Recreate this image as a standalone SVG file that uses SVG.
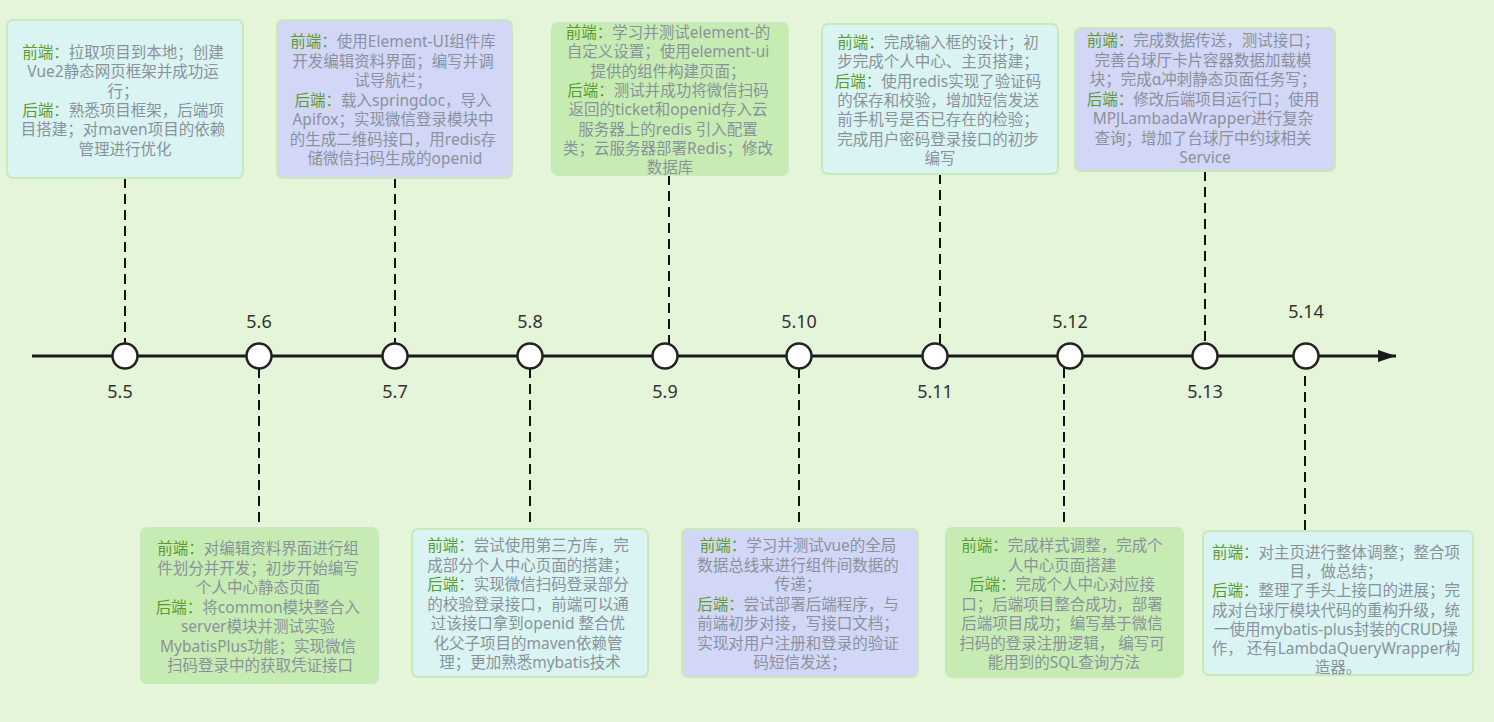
<svg xmlns="http://www.w3.org/2000/svg" width="1494" height="722" viewBox="0 0 1494 722">
<defs>
<style>
.bg{fill:#e4f5d9}
.box{stroke:#c8eab8;stroke-width:2}
.cy{fill:#d9f4f3}
.lv{fill:#d2d6f7}
.gr{fill:#c7ecb3}
.t{font-family:"Noto Sans","Noto Sans CJK SC",sans-serif;font-size:15.5px;fill:#8a929c;text-anchor:middle}
.k{fill:#5c9c2e}
.d{stroke:#111;stroke-width:2;stroke-dasharray:10 6;fill:none}
.axis{stroke:#1a1a1a;stroke-width:3;fill:none}
.dot{fill:#fff;stroke:#222;stroke-width:2.5}
.lb{font-family:"Noto Sans","Noto Sans CJK SC",sans-serif;font-size:18px;fill:#333;text-anchor:middle}
</style>
<marker id="arr" viewBox="0 0 18 12" refX="18" refY="6" markerWidth="18" markerHeight="12" markerUnits="userSpaceOnUse" orient="auto">
<path d="M0,0 L18,6 L0,12 Z" fill="#1a1a1a"/>
</marker>
</defs>
<rect class="bg" x="0" y="0" width="1494" height="722"/>

<g id="connectors">
<line class="axis" x1="32" y1="356" x2="1396" y2="356" marker-end="url(#arr)"/>
<line class="d" x1="125" y1="178" x2="125" y2="344"/>
<line class="d" x1="395" y1="178" x2="395" y2="344"/>
<line class="d" x1="669" y1="175" x2="669" y2="344"/>
<line class="d" x1="940" y1="174" x2="940" y2="345"/>
<line class="d" x1="1205" y1="171" x2="1205" y2="344"/>
<line class="d" x1="259" y1="368" x2="259" y2="528"/>
<line class="d" x1="530" y1="368" x2="530" y2="529"/>
<line class="d" x1="799" y1="368" x2="799" y2="529"/>
<line class="d" x1="1064" y1="368" x2="1064" y2="528"/>
<line class="d" x1="1305" y1="376" x2="1305" y2="531"/>
</g>

<g id="timeline">
<circle class="dot" cx="125" cy="356" r="12.5"/>
<circle class="dot" cx="259" cy="356" r="12.5"/>
<circle class="dot" cx="395" cy="356" r="12.5"/>
<circle class="dot" cx="530" cy="356" r="12.5"/>
<circle class="dot" cx="665" cy="356" r="12.5"/>
<circle class="dot" cx="799" cy="356" r="12.5"/>
<circle class="dot" cx="935" cy="356" r="12.5"/>
<circle class="dot" cx="1070" cy="356" r="12.5"/>
<circle class="dot" cx="1205" cy="356" r="12.5"/>
<circle class="dot" cx="1306" cy="356" r="12.5"/>
<text class="lb" x="120" y="398">5.5</text>
<text class="lb" x="259" y="328">5.6</text>
<text class="lb" x="395" y="398">5.7</text>
<text class="lb" x="530" y="328">5.8</text>
<text class="lb" x="665" y="398">5.9</text>
<text class="lb" x="799" y="328">5.10</text>
<text class="lb" x="935" y="398">5.11</text>
<text class="lb" x="1070" y="328">5.12</text>
<text class="lb" x="1205" y="398">5.13</text>
<text class="lb" x="1306" y="318">5.14</text>
</g>

<g id="n55">
<rect class="box cy" x="7" y="20" width="236" height="158" rx="6"/>
<text class="t">
<tspan x="125" y="58"><tspan class="k">前端：</tspan>拉取项目到本地；创建</tspan>
<tspan x="125" y="77.3">Vue2静态网页框架并成功运</tspan>
<tspan x="125" y="96.6">行；</tspan>
<tspan x="125" y="115.9"><tspan class="k">后端：</tspan>熟悉项目框架，后端项</tspan>
<tspan x="125" y="135.2">目搭建；对maven项目的依赖</tspan>
<tspan x="125" y="154.5">管理进行优化</tspan>
</text>
</g>

<g id="n57">
<rect class="box lv" x="277" y="20" width="235" height="158" rx="6"/>
<text class="t">
<tspan x="395" y="47"><tspan class="k">前端：</tspan>使用Element-UI组件库</tspan>
<tspan x="395" y="66.5">开发编辑资料界面；编写并调</tspan>
<tspan x="395" y="86">试导航栏；</tspan>
<tspan x="395" y="105.5"><tspan class="k">后端：</tspan>载入springdoc，导入</tspan>
<tspan x="395" y="125">Apifox；实现微信登录模块中</tspan>
<tspan x="395" y="144.5">的生成二维码接口，用redis存</tspan>
<tspan x="395" y="164">储微信扫码生成的openid</tspan>
</text>
</g>

<g id="n59">
<rect class="box gr" x="552" y="23" width="236" height="152" rx="6"/>
<text class="t">
<tspan x="670" y="38"><tspan class="k">前端：</tspan>学习并测试element-的</tspan>
<tspan x="670" y="57.3">自定义设置；使用element-ui</tspan>
<tspan x="670" y="76.6">提供的组件构建页面；</tspan>
<tspan x="670" y="95.9"><tspan class="k">后端：</tspan>测试并成功将微信扫码</tspan>
<tspan x="670" y="115.2">返回的ticket和openid存入云</tspan>
<tspan x="670" y="134.5">服务器上的redis 引入配置</tspan>
<tspan x="670" y="153.8">类；云服务器部署Redis；修改</tspan>
<tspan x="670" y="173.1">数据库</tspan>
</text>
</g>

<g id="n511">
<rect class="box cy" x="822" y="24" width="236" height="150" rx="6"/>
<text class="t">
<tspan x="940" y="48"><tspan class="k">前端：</tspan>完成输入框的设计；初</tspan>
<tspan x="940" y="67.3">步完成个人中心、主页搭建；</tspan>
<tspan x="940" y="86.6"><tspan class="k">后端：</tspan>使用redis实现了验证码</tspan>
<tspan x="940" y="105.9">的保存和校验，增加短信发送</tspan>
<tspan x="940" y="125.2">前手机号是否已存在的检验；</tspan>
<tspan x="940" y="144.5">完成用户密码登录接口的初步</tspan>
<tspan x="940" y="163.8">编写</tspan>
</text>
</g>

<g id="n513">
<rect class="box lv" x="1075" y="28" width="260" height="143" rx="6"/>
<text class="t">
<tspan x="1205" y="46"><tspan class="k">前端：</tspan>完成数据传送，测试接口；</tspan>
<tspan x="1205" y="65.5">完善台球厅卡片容器数据加载模</tspan>
<tspan x="1205" y="85">块；完成α冲刺静态页面任务写；</tspan>
<tspan x="1205" y="104.5"><tspan class="k">后端：</tspan>修改后端项目运行口；使用</tspan>
<tspan x="1205" y="124">MPJLambadaWrapper进行复杂</tspan>
<tspan x="1205" y="143.5">查询；增加了台球厅中约球相关</tspan>
<tspan x="1205" y="163">Service</tspan>
</text>
</g>

<g id="n56">
<rect class="box gr" x="141" y="528" width="237" height="155" rx="6"/>
<text class="t">
<tspan x="260" y="554"><tspan class="k">前端：</tspan>对编辑资料界面进行组</tspan>
<tspan x="260" y="573.5">件划分并开发；初步开始编写</tspan>
<tspan x="260" y="593">个人中心静态页面</tspan>
<tspan x="260" y="612.5"><tspan class="k">后端：</tspan>将common模块整合入</tspan>
<tspan x="260" y="632">server模块并测试实验</tspan>
<tspan x="260" y="651.5">MybatisPlus功能；实现微信</tspan>
<tspan x="260" y="671">扫码登录中的获取凭证接口</tspan>
</text>
</g>

<g id="n58">
<rect class="box cy" x="412" y="529" width="236" height="148" rx="6"/>
<text class="t">
<tspan x="530" y="551"><tspan class="k">前端：</tspan>尝试使用第三方库，完</tspan>
<tspan x="530" y="570.5">成部分个人中心页面的搭建；</tspan>
<tspan x="530" y="590"><tspan class="k">后端：</tspan>实现微信扫码登录部分</tspan>
<tspan x="530" y="609.5">的校验登录接口，前端可以通</tspan>
<tspan x="530" y="629">过该接口拿到openid 整合优</tspan>
<tspan x="530" y="648.5">化父子项目的maven依赖管</tspan>
<tspan x="530" y="668">理；更加熟悉mybatis技术</tspan>
</text>
</g>

<g id="n510">
<rect class="box lv" x="682" y="529" width="236" height="148" rx="6"/>
<text class="t">
<tspan x="800" y="551"><tspan class="k">前端：</tspan>学习并测试vue的全局</tspan>
<tspan x="800" y="570.5">数据总线来进行组件间数据的</tspan>
<tspan x="800" y="590">传递；</tspan>
<tspan x="800" y="609.5"><tspan class="k">后端：</tspan>尝试部署后端程序，与</tspan>
<tspan x="800" y="629">前端初步对接，写接口文档；</tspan>
<tspan x="800" y="648.5">实现对用户注册和登录的验证</tspan>
<tspan x="800" y="668">码短信发送；</tspan>
</text>
</g>

<g id="n512">
<rect class="box gr" x="946" y="528" width="237" height="149" rx="6"/>
<text class="t">
<tspan x="1064" y="551"><tspan class="k">前端：</tspan>完成样式调整，完成个</tspan>
<tspan x="1064" y="570.5">人中心页面搭建</tspan>
<tspan x="1064" y="590"><tspan class="k">后端：</tspan>完成个人中心对应接</tspan>
<tspan x="1064" y="609.5">口；后端项目整合成功，部署</tspan>
<tspan x="1064" y="629">后端项目成功；编写基于微信</tspan>
<tspan x="1064" y="648.5">扫码的登录注册逻辑， 编写可</tspan>
<tspan x="1064" y="668">能用到的SQL查询方法</tspan>
</text>
</g>

<g id="n514">
<rect class="box cy" x="1203" y="531" width="270" height="144" rx="6"/>
<text class="t">
<tspan x="1338" y="558"><tspan class="k">前端：</tspan>对主页进行整体调整；整合项</tspan>
<tspan x="1338" y="577.2">目，做总结；</tspan>
<tspan x="1338" y="596.4"><tspan class="k">后端：</tspan>整理了手头上接口的进展；完</tspan>
<tspan x="1338" y="615.6">成对台球厅模块代码的重构升级，统</tspan>
<tspan x="1338" y="634.8">一使用mybatis-plus封装的CRUD操</tspan>
<tspan x="1338" y="654">作， 还有LambdaQueryWrapper构</tspan>
<tspan x="1338" y="673.2">造器。</tspan>
</text>
</g>
</svg>
